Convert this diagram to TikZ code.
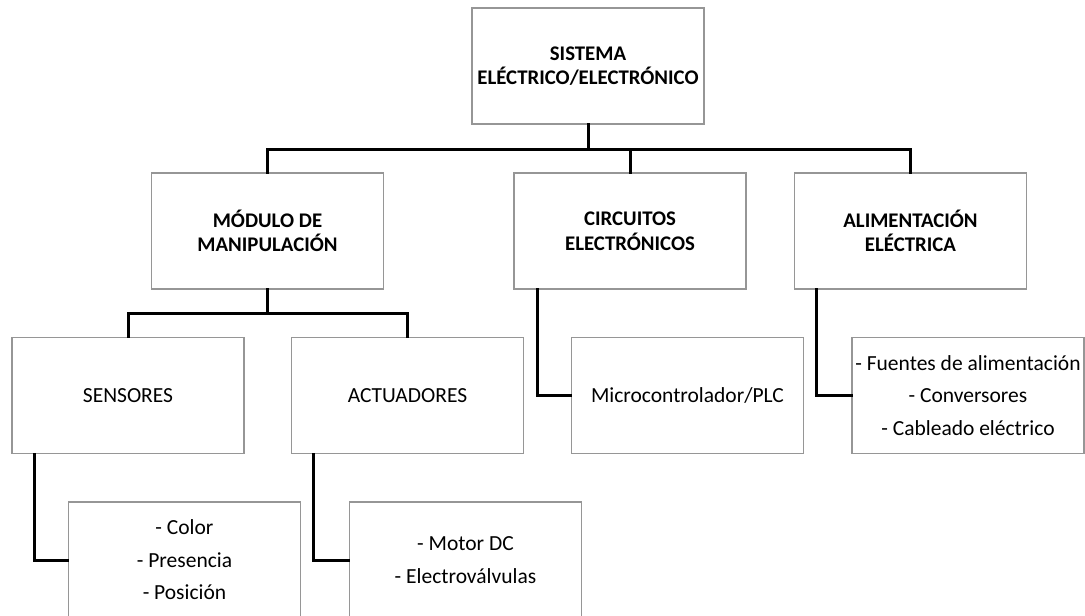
\documentclass[tikz,border=0pt]{standalone}
\usepackage{fontspec}
\setmainfont{Carlito}
\begin{document}
\begin{tikzpicture}[x=1pt,y=-1pt,
  box/.style={draw={rgb,255:red,150;green,150;blue,150}, line width=1.3pt, fill=white,
    minimum width=232pt, minimum height=116pt, inner sep=0pt, align=center,
    font=\fontsize{21.5}{25}\selectfont},
  headbox/.style={box, font=\fontsize{20.8}{24.5}\selectfont\bfseries},
  listbox/.style={box, font=\fontsize{21.5}{32.5}\selectfont},
  link/.style={draw=black, line width=3pt, line cap=rect, line join=miter}]
\useasboundingbox[fill=white] (0,0) rectangle (1085,616);

% level 0
\node[headbox] (top) at (588,66) {SISTEMA\\ELÉCTRICO/ELECTRÓNICO};

% level 1
\node[headbox] (mod)  at (267.5,231) {MÓDULO DE\\MANIPULACIÓN};
\node[headbox] (circ) at (630,231)   {CIRCUITOS\\ELECTRÓNICOS};
\node[headbox] (alim) at (910.5,231) {ALIMENTACIÓN\\ELÉCTRICA};

% level 2
\node[box] (sens)  at (128,395.5)   {SENSORES};
\node[box] (act)   at (407.5,395.5) {ACTUADORES};
\node[box] (micro) at (687.5,395.5) {Microcontrolador/PLC};
\node[listbox] (fuen) at (968,395.5) {- Fuentes de alimentación\\- Conversores\\- Cableado eléctrico};

% level 3
\node[listbox] (sensl) at (184.5,560) {- Color\\- Presencia\\- Posición};
\node[listbox] (actl)  at (465.5,560) {- Motor DC\\- Electroválvulas};

% bus junctions
\coordinate (b1) at (588,149);
\coordinate (b2) at (267.5,313);

% tree connectors
\draw[link] (top.south) -- (b1);
\draw[link] (b1) -| (mod.north);
\draw[link] (b1) -| (circ.north);
\draw[link] (b1) -| (alim.north);
\draw[link] (mod.south) -- (b2);
\draw[link] (b2) -| (sens.north);
\draw[link] (b2) -| (act.north);

% side connectors to detail boxes
\draw[link] ([xshift=23pt]sens.south west) |- (sensl.west);
\draw[link] ([xshift=23pt]act.south west) |- (actl.west);
\draw[link] ([xshift=24pt]circ.south west) |- (micro.west);
\draw[link] ([xshift=23pt]alim.south west) |- (fuen.west);
\end{tikzpicture}
\end{document}
